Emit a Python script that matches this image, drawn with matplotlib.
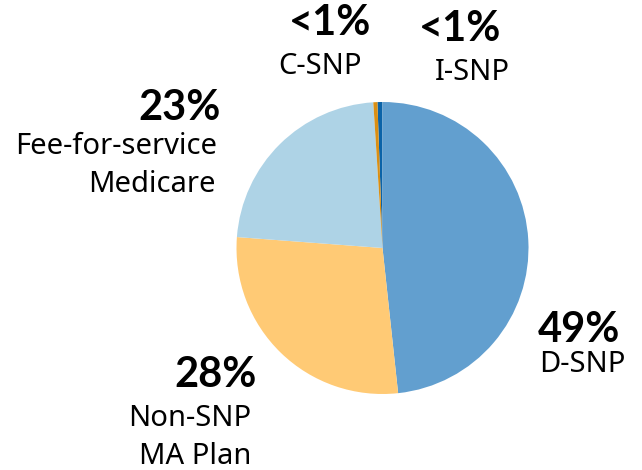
import matplotlib
matplotlib.use("Agg")
import matplotlib.pyplot as plt

plt.rcParams['font.family'] = ['Lato', 'DejaVu Sans']

# share of enrollees, clockwise from the top
segments = ['I-SNP', 'D-SNP', 'Non-SNP MA Plan', 'Fee-for-service Medicare', 'C-SNP']
shares = [0.55, 48.3, 27.9, 22.8, 0.45]
colors = ['#0b63a8', '#629fcf', '#ffca75', '#aed3e6', '#da8f14']

pct_labels = ['<1%', '49%', '28%', '23%', '<1%']
name_labels = [['I-SNP'], ['D-SNP'], ['Non-SNP', 'MA Plan'],
               ['Fee-for-service', 'Medicare'], ['C-SNP']]

# label anchors in pixels: (x, y, ha) for the percent, then for each name line
pct_pos = [(460, 29, 'center'), (538, 330, 'left'), (257, 375, 'right'),
           (221, 108, 'right'), (330, 23, 'center')]
name_pos = [[(472, 72, 'center')], [(539, 364, 'left')],
            [(251, 418, 'right'), (251, 457, 'right')],
            [(217, 147, 'right'), (216, 185, 'right')],
            [(320, 66, 'center')]]

W, H = 642, 470
fig = plt.figure(figsize=(W / 100, H / 100), dpi=100)
cx, cy, r = 382.5, 248, 146
ax = fig.add_axes([(cx - r) / W, (H - cy - r) / H, 2 * r / W, 2 * r / H])
ax.pie(shares, colors=colors, startangle=92, counterclock=False,
       wedgeprops={'linewidth': 0})
ax.set_xlim(-1, 1)
ax.set_ylim(-1, 1)
ax.set_aspect('equal')

for i in range(len(segments)):
    x, y, ha = pct_pos[i]
    fig.text(x / W, 1 - y / H, pct_labels[i], ha=ha, va='center',
             fontsize=30, fontweight='bold', color='black')
    for line, (x, y, ha) in zip(name_labels[i], name_pos[i]):
        fig.text(x / W, 1 - y / H, line, ha=ha, va='center',
                 fontsize=21, color='black', family=['Noto Sans', 'DejaVu Sans'])

fig.savefig('out.png', dpi=100)
